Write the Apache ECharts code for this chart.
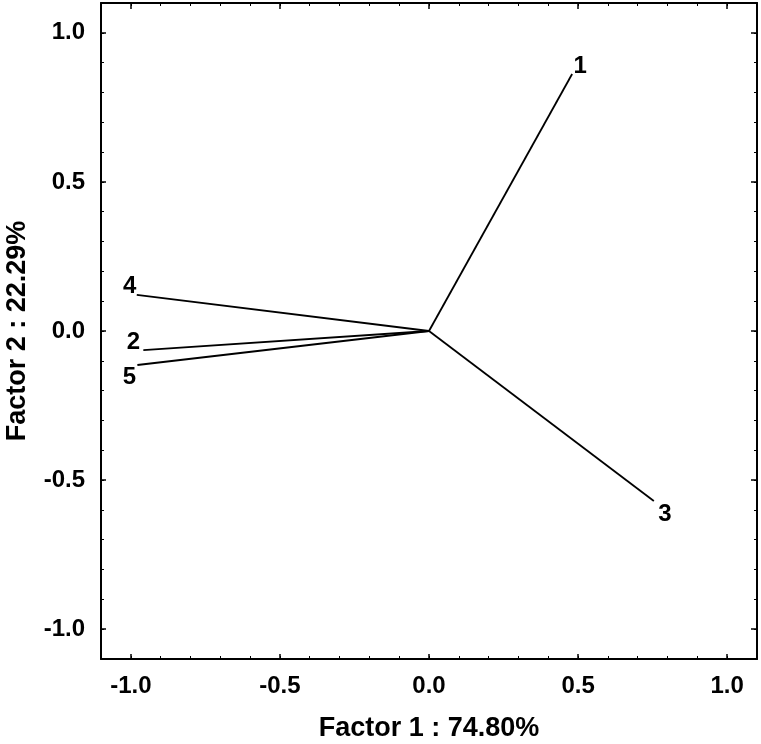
<!DOCTYPE html>
<html>
<head>
<meta charset="utf-8">
<script src="https://cdn.jsdelivr.net/npm/echarts@6/dist/echarts.min.js"></script>
<style>html,body{margin:0;padding:0;background:#fff;}#c{width:761px;height:744px;}</style>
</head>
<body>
<div id="c"></div>
<script>
// Data
var varNames = ['1', '2', '3', '4', '5'];
var factor1 = [0.48, -0.958, 0.754, -0.98, -0.978];
var factor2 = [0.862, -0.064, -0.57, 0.121, -0.114];
var labelTicks = [-1.0, -0.5, 0.0, 0.5, 1.0];
var minorTicks = [-1.0, -0.9, -0.8, -0.7, -0.6, -0.5, -0.4, -0.3, -0.2, -0.1, 0.0, 0.1, 0.2, 0.3, 0.4, 0.5, 0.6, 0.7, 0.8, 0.9, 1.0];
var xTitle = 'Factor 1 : 74.80%';
var yTitle = 'Factor 2 : 22.29%';
// label offsets (layout only)
var labelOffsets = [[8, -8], [-10, -8], [11, 13], [-7, -9], [-8, 12]];

var FONT = '"Liberation Sans", Arial, sans-serif';
var RANGE = [-1.1, 1.1];

function fmt(v) { return v.toFixed(1); }

function makeAxis(kind, pos, opts) {
  var a = {
    type: 'value', position: pos, min: RANGE[0], max: RANGE[1],
    interval: 0.1, gridIndex: 0,
    splitLine: { show: false },
    axisLine: { show: opts.line, onZero: false, lineStyle: { color: '#000', width: 2 } },
    axisTick: { show: true, inside: true, length: opts.tickLen, customValues: opts.ticks,
                lineStyle: { color: '#000', width: opts.tickW } },
    axisLabel: { show: opts.labels }
  };
  if (opts.labels) {
    a.axisLabel = { show: true, customValues: labelTicks, formatter: fmt,
      fontFamily: FONT, fontWeight: 'bold', fontSize: 24, color: '#000',
      margin: kind === 'x' ? 15 : 16 };
    a.name = opts.name;
    a.nameLocation = 'middle';
    a.nameGap = kind === 'x' ? 56 : 70;
    a.nameTextStyle = { fontFamily: FONT, fontWeight: 'bold', fontSize: 27, color: '#000' };
  }
  return a;
}

var xAxes = [
  makeAxis('x', 'bottom', { line: true, tickLen: 5, tickW: 1.5, ticks: labelTicks, labels: true, name: xTitle }),
  makeAxis('x', 'bottom', { line: false, tickLen: 3, tickW: 1, ticks: minorTicks, labels: false }),
  makeAxis('x', 'top', { line: true, tickLen: 6, tickW: 1.5, ticks: labelTicks, labels: false }),
  makeAxis('x', 'top', { line: false, tickLen: 3, tickW: 1, ticks: minorTicks, labels: false })
];
var yAxes = [
  makeAxis('y', 'left', { line: true, tickLen: 5, tickW: 1.5, ticks: labelTicks, labels: true, name: yTitle }),
  makeAxis('y', 'left', { line: false, tickLen: 3, tickW: 1, ticks: minorTicks, labels: false }),
  makeAxis('y', 'right', { line: true, tickLen: 6, tickW: 1.5, ticks: labelTicks, labels: false }),
  makeAxis('y', 'right', { line: false, tickLen: 3, tickW: 1, ticks: minorTicks, labels: false })
];

var series = [];
for (var i = 0; i < varNames.length; i++) {
  series.push({
    type: 'line', xAxisIndex: 0, yAxisIndex: 0,
    data: [[0, 0], [factor1[i], factor2[i]]],
    symbol: 'none', silent: true, animation: false,
    lineStyle: { color: '#000', width: 1.8 }
  });
}
var labelData = [];
for (var j = 0; j < varNames.length; j++) {
  labelData.push({
    name: varNames[j], value: [factor1[j], factor2[j]],
    label: { offset: labelOffsets[j] }
  });
}
series.push({
  type: 'scatter', xAxisIndex: 0, yAxisIndex: 0, data: labelData,
  symbolSize: 0, itemStyle: { color: '#000', opacity: 1 }, animation: false, silent: true,
  label: { show: true, position: 'inside', formatter: '{b}', textBorderWidth: 0,
    fontFamily: FONT, fontWeight: 'bold', fontSize: 24, color: '#000' }
});

var chart = echarts.init(document.getElementById('c'), null, { renderer: 'canvas' });
chart.setOption({
  animation: false,
  backgroundColor: '#fff',
  grid: { left: 101, right: 4, top: 3, bottom: 85, containLabel: false, outerBoundsMode: 'none' },
  xAxis: xAxes,
  yAxis: yAxes,
  series: series
});
</script>
</body>
</html>
